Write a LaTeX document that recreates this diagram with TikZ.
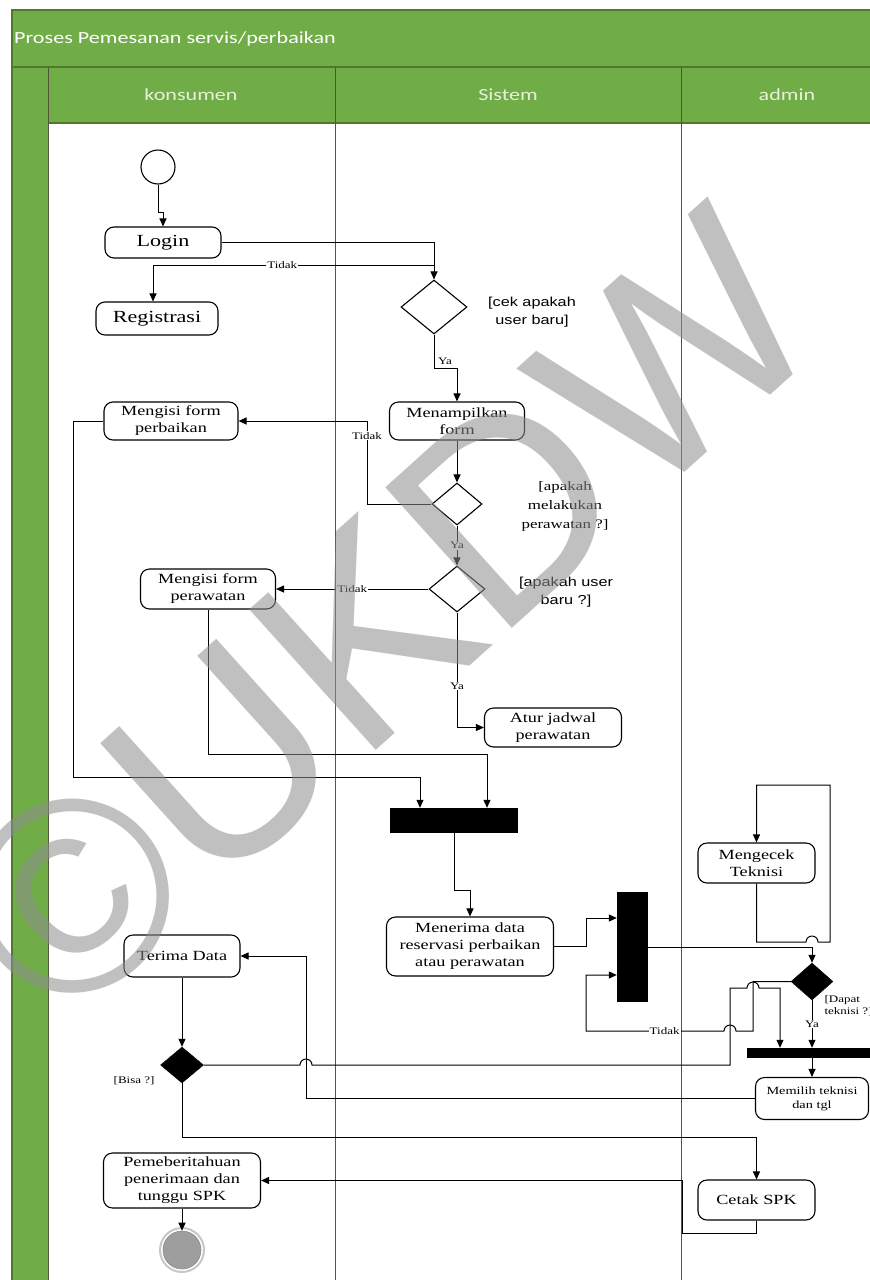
\documentclass[tikz,border=0pt]{standalone}
\usepackage{fontspec}
\setmainfont[FakeStretch=1.3]{Liberation Serif}
\newfontfamily\gsans[FakeStretch=1.25]{Liberation Sans}
\newfontfamily\hdrfont[FakeStretch=1.3]{Carlito}
\newfontfamily\wmfont{Liberation Sans}
\usetikzlibrary{shapes.geometric,arrows.meta,calc}
\definecolor{lanegreen}{HTML}{70AD47}
\definecolor{lanedark}{HTML}{4E7A2E}
\definecolor{laneline}{HTML}{55553F}
\definecolor{hdrtext}{HTML}{E6F0DC}
\definecolor{wmgray}{HTML}{8E8E8E}
\begin{document}
\begin{tikzpicture}[x=1pt,y=-1pt,
  act/.style={draw, rounded corners=9pt, line width=1.1pt, align=center, inner sep=0pt, fill=white, font=\fontsize{14}{17}\selectfont},
  dec/.style={draw, diamond, line width=1.1pt, inner sep=0pt, fill=white},
  bdec/.style={diamond, fill=black, draw=black, inner sep=0pt},
  bar/.style={rectangle, fill=black, inner sep=0pt},
  arr/.style={-{Triangle[length=8pt,width=7pt]}, line width=1pt},
  lbl/.style={font=\fontsize{10}{11}\selectfont, fill=white, inner sep=1pt},
  lblnf/.style={font=\fontsize{10}{11}\selectfont, inner sep=1pt},
  guard/.style={font=\gsans\fontsize{13}{18}\selectfont, align=center},
  gserif/.style={font=\fontsize{13}{19}\selectfont, align=center},
  gsmall/.style={font=\fontsize{10}{12}\selectfont},
  hdr/.style={text=hdrtext, font=\hdrfont\fontsize{17}{19}\selectfont}
]
\useasboundingbox (0,0) rectangle (870,1280);
\fill[white] (0,0) rectangle (870,1280);
% swimlane frame
\fill[lanegreen] (12,10) rectangle (890,123);
\fill[lanegreen] (12,123) rectangle (48,1290);
\draw[lanedark,line width=1.6pt] (12,1290) -- (12,10) -- (890,10);
\draw[lanedark,line width=1.4pt] (12,67) -- (890,67);
\draw[lanedark,line width=1.2pt] (48,123) -- (890,123);
\draw[laneline,line width=1pt] (48,67) -- (48,1290);
\draw[laneline,line width=0.9pt] (335,67) -- (335,1290);
\draw[laneline,line width=0.9pt] (681,67) -- (681,1290);
\node[anchor=west, text=white, font=\hdrfont\fontsize{17}{19}\selectfont, inner sep=0] (title) at (14,39) {Proses Pemesanan servis/perbaikan};
\node[hdr] (h1) at (191,95) {konsumen};
\node[hdr] (h2) at (508,95) {Sistem};
\node[hdr] (h3) at (787,95) {admin};

% nodes
\node[circle, draw, line width=1.1pt, minimum size=34pt, inner sep=0pt, fill=white] (start) at (158,167) {};
\node[act, font=\fontsize{17}{19}\selectfont, minimum width=116pt, minimum height=31pt] (login) at (163,242.5) {Login};
\node[act, font=\fontsize{17}{19}\selectfont, minimum width=122pt, minimum height=33pt] (reg) at (157,318.5) {Registrasi};
\node[dec, minimum width=66pt, minimum height=54pt] (d1) at (434,307) {};
\node[guard] (g1) at (532,312) {[cek apakah\\user baru]};
\node[act, minimum width=135pt, minimum height=38pt] (menam) at (457,421) {Menampilkan\\form};
\node[dec, minimum width=50pt, minimum height=42pt] (d2) at (457,504) {};
\node[gserif] (g2) at (565,506) {[apakah\\melakukan\\perawatan ?]};
\node[act, minimum width=134pt, minimum height=38pt] (perbaikan) at (171,421) {Mengisi form\\perbaikan};
\node[dec, minimum width=56pt, minimum height=46pt] (d3) at (457,589) {};
\node[guard] (g3) at (566,592) {[apakah user\\baru ?]};
\node[act, minimum width=135pt, minimum height=40pt] (perawatan) at (208,589) {Mengisi form\\perawatan};
\node[act, minimum width=137pt, minimum height=39pt] (atur) at (553,727.5) {Atur jadwal\\perawatan};
\node[bar, minimum width=128pt, minimum height=25pt] (fork1) at (454,820.5) {};
\node[act, minimum width=167pt, minimum height=59pt] (menerima) at (470,946.5) {Menerima data\\reservasi perbaikan\\atau perawatan};
\node[bar, minimum width=31pt, minimum height=110pt] (fork2) at (632.5,947) {};
\node[act, minimum width=117pt, minimum height=40pt] (mengecek) at (756.5,863) {Mengecek\\Teknisi};
\node[bdec, minimum width=42pt, minimum height=37pt] (d4) at (812,981.5) {};
\node[gsmall, align=left, anchor=west] (g4) at (821,1006) {[Dapat\\teknisi ?]};
\node[bar, minimum width=130pt, minimum height=10pt] (fork3) at (812,1053) {};
\node[act, font=\fontsize{11}{14}\selectfont, minimum width=113pt, minimum height=42pt] (memilih) at (812,1098.5) {Memilih teknisi\\dan tgl};
\node[act, minimum width=116pt, minimum height=42pt] (terima) at (182,956) {Terima Data};
\node[bdec, minimum width=43pt, minimum height=36pt] (d5) at (182,1065) {};
\node[gsmall, anchor=east] (g5) at (158,1081) {[Bisa ?]};
\node[act, minimum width=117pt, minimum height=40pt] (cetak) at (756.5,1200) {Cetak SPK};
\node[act, minimum width=157pt, minimum height=55pt] (pember) at (182,1180.5) {Pemeberitahuan\\penerimaan dan\\tunggu SPK};
\node[circle, minimum size=38pt, inner sep=0pt, fill=black!38, draw=black!45, line width=0.6pt] (endn) at (182,1250) {};
\draw[black!22, line width=2pt] (endn) circle[radius=22pt];

% connectors
\coordinate (t1) at (434,265);
\draw[arr] (start.south) |- (163,212) -- (login.north);
\draw[arr] (login.east) -| (d1.north);
\draw[arr] (t1) -| node[lbl,pos=0.27]{Tidak} ([xshift=-4pt]reg.north);
\draw[arr] (d1.south) -- (434,368) -| (menam.north);
\node[lblnf] (ya1) at (445,361) {Ya};
\draw[arr] (menam.south) -- (d2.north);
\draw[arr] (d2.west) -- (367,504) |- node[lbl,pos=0.41]{Tidak} (perbaikan.east);
\draw[arr] (d2.south) -- node[lbl]{Ya} (d3.north);
\draw[arr] (d3.west) -- node[lbl,pos=0.5]{Tidak} (perawatan.east);
\draw[arr] (d3.south) |- node[lbl,pos=0.32]{Ya} (atur.west);
\draw[arr] (perawatan.south) -- (208,754) -| ([xshift=33pt]fork1.north);
\draw[arr] (perbaikan.west) -| (73,777) -| ([xshift=-34pt]fork1.north);
\draw[arr] (fork1.south) -- (454,890) -| (menerima.north);
\draw[arr] (menerima.east) -- (586,946.5) |- ([yshift=29pt]fork2.west);
\draw[arr] (fork2.east) -| (d4.north);
\draw[arr] (mengecek.south) -- (756.5,942) -- (806,942) arc[start angle=180,end angle=0,radius=6pt] -- (830,942) -- (830,785) -| (mengecek.north);
\draw[arr] (d4.west) -- (753,981.5) -- (753,1031) -- (736,1031) arc[start angle=0,end angle=180,radius=6pt] -- node[lbl,pos=0.43]{Tidak} (586,1031) |- ([yshift=-28pt]fork2.west);
\draw[arr] (d5.east) -- (300,1065) arc[start angle=180,end angle=0,radius=6pt] -- (730,1065) -- (730,988) -- (747,988) arc[start angle=180,end angle=0,radius=6pt] -- (780,988) -- ([xshift=-32pt]fork3.north);
\draw[arr] (d4.south) -- node[lbl]{Ya} (fork3.north);
\draw[arr] (fork3.south) -- (memilih.north);
\draw[arr] (memilih.west) -| (306,956) -- (terima.east);
\draw[arr] (terima.south) -- (d5.north);
\draw[arr] (d5.south) -- (182,1137) -| (cetak.north);
\draw[arr] (cetak.south) -- (756.5,1233) -| (682,1180.5) -- (pember.east);
\draw[arr] (pember.south) -- (endn.north);

% watermark
\node[rotate=42, text=wmgray, text opacity=0.55, font=\wmfont\fontsize{275}{275}\selectfont, inner sep=0pt] (wm) at (385,615) {©UKDW};
\end{tikzpicture}
\end{document}
